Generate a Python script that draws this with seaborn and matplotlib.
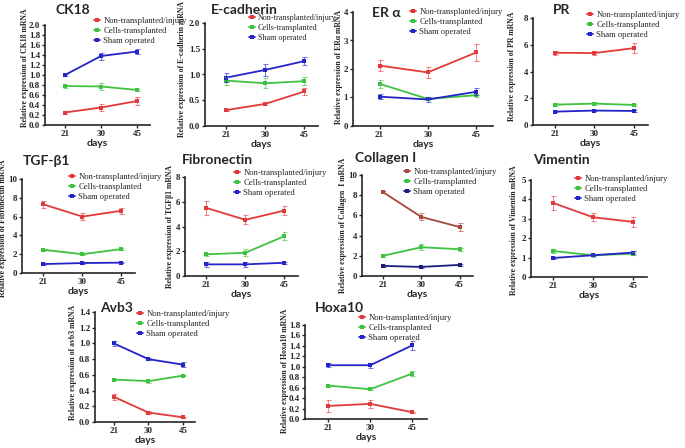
import pandas as pd
import matplotlib.pyplot as plt
import seaborn as sns

sns.set_style('ticks')

# x categories and groups
days = ['21', '30', '45']
groups = ['Non-transplanted/injury', 'Cells-transplanted', 'Sham operated']

# CK18
ck18_mean = [[0.25, 0.35, 0.48], [0.78, 0.77, 0.70], [1.00, 1.38, 1.47]]
ck18_err = [[0.03, 0.07, 0.08], [0.03, 0.07, 0.02], [0.02, 0.07, 0.05]]
# E-cadherin
ecad_mean = [[0.31, 0.43, 0.67], [0.88, 0.83, 0.87], [0.94, 1.09, 1.26]]
ecad_err = [[0.01, 0.02, 0.07], [0.08, 0.10, 0.08], [0.08, 0.12, 0.08]]
# ER alpha
era_mean = [[2.12, 1.88, 2.58], [1.48, 0.95, 1.08], [1.03, 0.93, 1.20]]
era_err = [[0.18, 0.18, 0.30], [0.15, 0.05, 0.05], [0.10, 0.10, 0.12]]
# PR
pr_mean = [[5.40, 5.38, 5.75], [1.52, 1.60, 1.50], [1.00, 1.08, 1.05]]
pr_err = [[0.15, 0.15, 0.35], [0.10, 0.10, 0.08], [0.05, 0.05, 0.05]]
# TGF-b1
tgf_mean = [[7.30, 6.00, 6.62], [2.47, 2.00, 2.54], [0.95, 1.06, 1.10]]
tgf_err = [[0.35, 0.40, 0.30], [0.10, 0.10, 0.10], [0.08, 0.08, 0.08]]
# Fibronectin
fib_mean = [[5.50, 4.54, 5.29], [1.75, 1.88, 3.22], [0.94, 0.94, 1.07]]
fib_err = [[0.60, 0.35, 0.40], [0.10, 0.30, 0.30], [0.20, 0.20, 0.10]]
# Collagen I
col_mean = [[8.30, 5.85, 4.85], [2.00, 2.85, 2.65], [1.00, 0.90, 1.10]]
col_err = [[0.10, 0.35, 0.35], [0.10, 0.30, 0.15], [0.08, 0.08, 0.08]]
# Vimentin
vim_mean = [[3.82, 3.08, 2.84], [1.34, 1.12, 1.20], [0.98, 1.12, 1.26]]
vim_err = [[0.35, 0.20, 0.25], [0.12, 0.08, 0.08], [0.05, 0.05, 0.08]]
# Avb3
avb_mean = [[0.32, 0.12, 0.06], [0.54, 0.52, 0.59], [1.00, 0.80, 0.73]]
avb_err = [[0.04, 0.02, 0.01], [0.01, 0.02, 0.01], [0.03, 0.01, 0.03]]
# Hoxa10
hox_mean = [[0.25, 0.29, 0.13], [0.64, 0.57, 0.87], [1.03, 1.03, 1.41]]
hox_err = [[0.11, 0.07, 0.01], [0.02, 0.02, 0.05], [0.04, 0.05, 0.08]]

colors = ['#e23a3a', '#3fc23f', '#2424c8']
colors_col = ['#a8463e', '#3fc23f', '#1c1c7a']

W, H = 685, 448
fig = plt.figure(figsize=(6.85, 4.48), dpi=100)

serif = 'Liberation Serif'
sans = ['Lato', 'DejaVu Sans']


def panel(box, mean, err, title, title_xy, ylabel, label_xy, yticks, yfmt,
          legend_xy, pal=colors, legend_size=6.2):
    left, top, right, bottom = box
    ax = fig.add_axes([left / W, 1 - bottom / H, (right - left) / W, (bottom - top) / H])
    rows = []
    for g, name in enumerate(groups):
        for i in range(3):
            rows.append({'pos': i, 'value': mean[g][i], 'group': name})
    df = pd.DataFrame(rows)
    sns.lineplot(data=df, x='pos', y='value', hue='group', hue_order=groups,
                 palette=pal, marker='s', markersize=3.2, markeredgewidth=0,
                 linewidth=1.3, ax=ax)
    for g in range(3):
        ax.errorbar(range(3), mean[g], yerr=err[g], fmt='none', ecolor=pal[g],
                    elinewidth=0.8, capsize=1.8, capthick=0.8, alpha=0.6)
    ax.set_xlim(-0.55, 2.35)
    ax.set_ylim(yticks[0], yticks[-1])
    ax.set_xticks(range(3))
    ax.set_xticklabels(days)
    ax.set_yticks(yticks)
    ax.set_yticklabels([yfmt.format(t) for t in yticks])
    for lab in ax.get_xticklabels() + ax.get_yticklabels():
        lab.set_fontfamily(serif)
        lab.set_fontweight('bold')
        lab.set_fontsize(6.5)
    ax.tick_params(length=2.5, width=1, pad=1)
    sns.despine(ax=ax)
    for s in ['left', 'bottom']:
        ax.spines[s].set_linewidth(1.2)
    ax.set_xlabel('days', family=sans, fontweight='bold', fontsize=7.5, labelpad=1)
    ax.set_ylabel(ylabel, family=serif, fontweight='bold', fontsize=5.6)
    ax.yaxis.set_label_coords((label_xy[0] - left) / (right - left), label_xy[1])
    handles, labels = ax.get_legend_handles_labels()
    ax.legend(handles, labels, loc='upper left',
              bbox_to_anchor=(legend_xy[0] / W, 1 - legend_xy[1] / H),
              bbox_transform=fig.transFigure, frameon=False, handlelength=0.7,
              handletextpad=0.4, borderpad=0, borderaxespad=0, labelspacing=0.25,
              prop={'family': serif, 'size': legend_size})
    fig.text(title_xy[0] / W, 1 - title_xy[1] / H, title, family=sans,
             fontweight='bold', fontsize=10, ha='left', va='center')
    return ax


def ticks(step, n):
    return [round(step * k, 2) for k in range(n + 1)]


panel((45, 25, 150, 125), ck18_mean, ck18_err, 'CK18', (55, 10),
      'Relative expression of CK18 mRNA', (29, 0.57), ticks(0.2, 10), '{:.1f}', (94, 17))
panel((205, 23, 318, 126), ecad_mean, ecad_err, 'E-cadherin', (211, 10),
      'Relative expression of E-cadherin mRNA', (186, 0.55), ticks(0.5, 4), '{:.1f}', (249, 14),
      legend_size=5.9)
panel((353, 12, 493, 126), era_mean, era_err, 'ER α', (372, 13),
      'Relative expression of ERα mRNA', (343, 0.52), ticks(1, 4), '{:.0f}', (410, 8))
panel((533, 18, 648, 125), pr_mean, pr_err, 'PR', (553, 10),
      'Relative expression of PR mRNA', (516, 0.55), ticks(2, 4), '{:.0f}', (587, 11))
panel((22, 179, 135, 273), tgf_mean, tgf_err, 'TGF-β1', (23, 161),
      'Relative expression of Fibronectin mRNA', (7, 0.48), ticks(2, 5), '{:.0f}', (69, 173))
panel((185, 177, 298, 276), fib_mean, fib_err, 'Fibronectin', (182, 160),
      'Relative expression of TGFβ1 mRNA', (174, 0.5), ticks(2, 4), '{:.0f}', (234, 169))
panel((362, 175, 473, 276), col_mean, col_err, 'Collagen I', (355, 158),
      'Relative expression of Collagen  I mRNA', (347, 0.5), ticks(2, 5), '{:.0f}', (404, 168),
      pal=colors_col)
panel((531, 180, 647, 277), vim_mean, vim_err, 'Vimentin', (533, 160),
      'Relative expression of Vimentin mRNA', (518, 0.48), ticks(1, 5), '{:.0f}', (575, 175))
panel((95, 312, 195, 422), avb_mean, avb_err, 'Avb3', (100, 308),
      'Relative expression of avb3 mRNA', (77, 0.54), ticks(0.2, 7), '{:.1f}', (137, 310))
panel((305, 325, 427, 419), hox_mean, hox_err, 'Hoxa10', (315, 308),
      'Relative expression of Hoxa10 mRNA', (289, 0.51), ticks(0.2, 9), '{:.1f}', (359, 314))

fig.savefig('out.png', dpi=100, facecolor='white')
